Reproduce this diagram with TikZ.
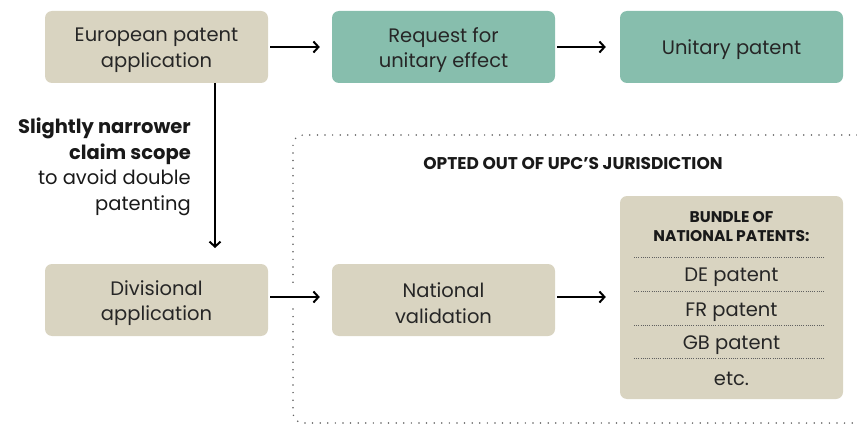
\documentclass[tikz,border=0pt]{standalone}
\usepackage{fontspec}
\setmainfont{Poppins}
\usetikzlibrary{arrows.meta}
\definecolor{beige}{HTML}{D9D4C1}
\definecolor{teal}{HTML}{87BEAD}
\definecolor{dotgray}{HTML}{606060}
\tikzset{
  box/.style={fill=#1, rounded corners=7pt, minimum width=223pt, minimum height=72pt, inner sep=0pt},
  txt/.style={align=center, font=\fontsize{19.5}{25.5}\selectfont, text=black!85, inner sep=0pt, yshift=-3pt},
  flow/.style={line width=2pt, -{Straight Barb[length=5pt,width=11pt,line width=2pt]}},
  frame/.style={dotgray, line width=1.7pt, dash pattern=on 0pt off 7.6pt, line cap=round, rounded corners=10pt},
  sep/.style={dotgray, line width=0.6pt, dash pattern=on 0.6pt off 1.6pt},
  item/.style={font=\fontsize{19.5}{22}\selectfont, text=black!85, yshift=-3pt},
}
\begin{document}
\begin{tikzpicture}[x=1pt,y=-1pt]
\useasboundingbox (0,0) rectangle (857,425);
% frame
\draw[frame] (857,135) -- (293,135) -- (293,285);
\draw[frame] (293,309) -- (293,423) -- (857,423);
\node[font=\fontsize{17}{19}\selectfont\bfseries, text=black!90] (opt) at (573,164) {OPTED OUT OF UPC’S JURISDICTION};
% boxes
\node[box=beige] (epa) at (156.5,47) {};
\node[box=teal] (req) at (443.5,47) {};
\node[box=teal] (up) at (731.5,47) {};
\node[box=beige] (div) at (156.5,300) {};
\node[box=beige] (nat) at (443.5,300) {};
\node[box=beige, minimum height=203pt] (bun) at (731.5,297.5) {};
\node[txt] (epat) at (epa.center) {European patent\\application};
\node[txt] (reqt) at (req.center) {Request for\\unitary effect};
\node[txt] (upt) at (up.center) {Unitary patent};
\node[txt] (divt) at (div.center) {Divisional\\application};
\node[txt] (natt) at (nat.center) {National\\validation};
% bundle contents
\node[font=\fontsize{15.5}{19}\selectfont\bfseries, align=center, text=black!90] (bt) at (731.5,227) {BUNDLE OF\\NATIONAL PATENTS:};
\node[item] (de) at (731.5,274) {DE patent};
\node[item] (fr) at (731.5,309) {FR patent};
\node[item] (gb) at (731.5,342) {GB patent};
\node[item] (etc) at (731.5,376) {etc.};
\coordinate (s1l) at (634,257); \coordinate (s1r) at (825,257);
\coordinate (s2l) at (634,291); \coordinate (s2r) at (825,291);
\coordinate (s3l) at (634,325); \coordinate (s3r) at (825,325);
\coordinate (s4l) at (634,358); \coordinate (s4r) at (825,358);
\draw[sep] (s1l) -- (s1r);
\draw[sep] (s2l) -- (s2r);
\draw[sep] (s3l) -- (s3r);
\draw[sep] (s4l) -- (s4r);
% arrows
\draw[flow] ([xshift=2pt]epa.east) -- ([xshift=-12pt]req.west);
\draw[flow] ([xshift=2pt]req.east) -- ([xshift=-14pt]up.west);
\draw[flow] ([xshift=2pt]div.east |- 0,297) -- ([xshift=-12pt]nat.west |- 0,297);
\draw[flow] ([xshift=2pt]nat.east |- 0,297) -- ([xshift=-14pt]bun.west |- 0,297);
\coordinate (vtop) at (215,83);
\coordinate (vbot) at (215,248);
\draw[flow] (vtop) -- (vbot);
\node[align=right, anchor=east, font=\fontsize{19.5}{25.5}\selectfont, text=black!90, inner sep=0pt] (lab) at (191,167)
  {\textbf{Slightly narrower}\\\textbf{claim scope}\\to avoid double\\patenting};
\end{tikzpicture}
\end{document}
